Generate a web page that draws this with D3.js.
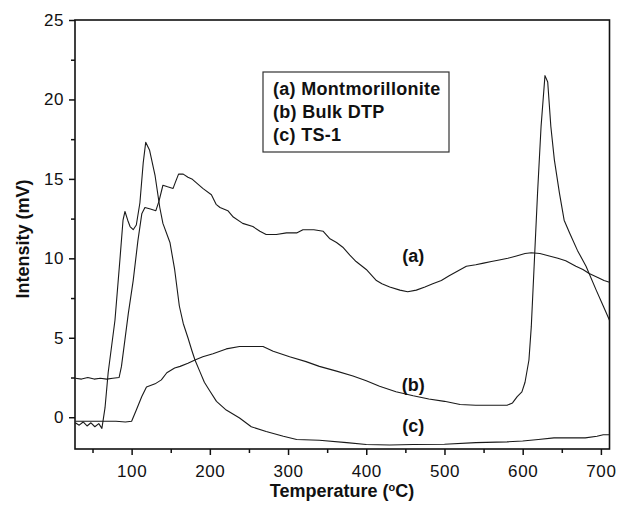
<!DOCTYPE html>
<html>
<head>
<meta charset="utf-8">
<script src="https://cdn.jsdelivr.net/npm/d3@7"></script>
<style>
  body { margin: 0; background: #fff; }
  text { font-family: "Liberation Sans", Arial, Helvetica, sans-serif; fill: #111; }
</style>
</head>
<body>
<div id="chart"></div>
<script>
// Chart size
var width = 620;
var height = 507;

// Data: [temperature (°C), intensity (mV)]
var montmorillonite = [
  [28,2.45],[36,2.4],[44,2.5],[52,2.4],[60,2.45],[68,2.4],[76,2.45],[84,2.5],[87,3.2],
  [91.5,4.9],[95.7,6.5],[102,8.6],[108,11.1],[113,12.8],[117,13.2],[124,13.1],[131,13.0],
  [135,13.6],[140,14.6],[146,14.5],[153,14.4],[156,14.8],[160,15.3],[166,15.3],[172,15.1],
  [177,15.0],[184,14.7],[191,14.4],[202,14.0],[208,13.4],[213,13.2],[223,13.0],[230,12.6],
  [242,12.2],[255,12.0],[264,11.7],[272,11.5],[285,11.5],[298,11.6],[311,11.6],[319,11.8],
  [333,11.8],[345,11.7],[353,11.25],[362,11.0],[370,10.7],[379,10.2],[387,9.8],[400,9.3],
  [413,8.6],[420,8.4],[430,8.2],[443,8.0],[453,7.9],[464,8.0],[475,8.2],[485,8.4],[496,8.6],
  [506,8.9],[517,9.2],[528,9.5],[540,9.6],[550,9.7],[560,9.8],[570,9.9],[581,10.0],
  [592,10.15],[603,10.3],[611,10.35],[622,10.3],[634,10.15],[645,10.0],[655,9.85],[668,9.5],
  [677,9.3],[685,9.05],[696,8.8],[704,8.6],[711,8.5]
];

var bulkDTP = [
  [28,-0.25],[40,-0.25],[60,-0.25],[80,-0.25],[92,-0.3],[100,-0.25],[106,0.45],[113,1.3],
  [119,1.9],[130,2.1],[138,2.35],[145,2.8],[155,3.1],[162,3.2],[172,3.4],[181,3.6],[191,3.8],
  [204,4.0],[221,4.3],[238,4.45],[255,4.45],[268,4.45],[281,4.15],[302,3.8],[323,3.5],
  [340,3.2],[362,2.9],[383,2.6],[400,2.3],[417,1.95],[438,1.6],[460,1.35],[480,1.15],
  [500,1.0],[520,0.8],[540,0.75],[560,0.75],[580,0.75],[587,0.9],[593,1.3],[599,1.6],
  [603,2.2],[608,3.6],[611,5.7],[615,9.9],[619,14.1],[623.5,18.3],[628.5,21.5],[632,21.1],
  [636,18.3],[640.5,16.2],[647,14.1],[653,12.4],[660,11.6],[670,10.5],[681,9.5],[694,8.0],
  [703,7.0],[711,6.1]
];

var ts1 = [
  [28,-0.35],[33,-0.5],[38,-0.3],[43,-0.55],[48,-0.35],[53,-0.6],[58,-0.4],[62,-0.7],
  [66,0.6],[70,2.8],[78.7,6.1],[85,9.9],[89,12.4],[91.5,12.95],[95,12.4],[98,12.0],
  [102,11.8],[106,12.1],[110.6,13.5],[114.8,16.0],[118,17.3],[123,16.8],[130,15.2],
  [136,13.2],[140,12.2],[149,11.0],[155,9.3],[161,7.0],[166,5.9],[172,5.0],[177,4.2],
  [181,3.6],[187,2.9],[193,2.2],[200,1.65],[208.5,1.0],[221,0.45],[238,-0.05],[253,-0.6],
  [272,-0.9],[294,-1.2],[311,-1.4],[340,-1.45],[375,-1.6],[400,-1.72],[430,-1.75],
  [460,-1.72],[500,-1.7],[540,-1.6],[580,-1.55],[600,-1.5],[620,-1.4],[640,-1.3],
  [680,-1.3],[695,-1.2],[703,-1.1],[711,-1.1]
];

// Tick values
var xMajor = [100, 200, 300, 400, 500, 600, 700];
var xMinor = [50, 150, 250, 350, 450, 550, 650];
var yMajor = [0, 5, 10, 15, 20, 25];
var yMinor = [2.5, 7.5, 12.5, 17.5, 22.5];

// Legend and curve labels
var legendLines = ["(a) Montmorillonite", "(b) Bulk DTP", "(c) TS-1"];
var curveLabels = [
  {text: "(a)", t: 460, i: 9.8},
  {text: "(b)", t: 460, i: 1.65},
  {text: "(c)", t: 460, i: -0.95}
];

var svg = d3.select("#chart")
  .append("svg")
  .attr("width", width)
  .attr("height", height);

var x = d3.scaleLinear().domain([27.6, 711]).range([75, 609.5]);
var y = d3.scaleLinear().domain([-2, 25]).range([449, 20]);

// Axes (major + minor ticks, outward)
svg.append("g").attr("transform", "translate(0,449)")
  .call(d3.axisBottom(x).tickValues(xMajor).tickSize(6).tickPadding(10));
svg.append("g").attr("transform", "translate(0,449)")
  .call(d3.axisBottom(x).tickValues(xMinor).tickSize(4).tickFormat(""));
svg.append("g").attr("transform", "translate(75,0)")
  .call(d3.axisLeft(y).tickValues(yMajor).tickSize(6).tickPadding(5));
svg.append("g").attr("transform", "translate(75,0)")
  .call(d3.axisLeft(y).tickValues(yMinor).tickSize(4).tickFormat(""));

svg.selectAll(".domain").remove();
svg.selectAll(".tick line").attr("stroke", "#111").attr("stroke-width", 1.5);
svg.selectAll(".tick text")
  .style("font-size", "17px")
  .style("letter-spacing", "0.6px")
  .style("font-family", "'Liberation Sans', Arial, sans-serif")
  .attr("fill", "#111");

// Frame
svg.append("rect")
  .attr("x", x.range()[0])
  .attr("y", y.range()[1])
  .attr("width", x.range()[1] - x.range()[0])
  .attr("height", y.range()[0] - y.range()[1])
  .attr("fill", "none")
  .attr("stroke", "#111")
  .attr("stroke-width", 1.6);

// Curves
var line = d3.line()
  .x(function(d) { return x(d[0]); })
  .y(function(d) { return y(d[1]); });

svg.selectAll("path.curve")
  .data([montmorillonite, bulkDTP, ts1])
  .enter()
  .append("path")
  .attr("class", "curve")
  .attr("d", line)
  .attr("fill", "none")
  .attr("stroke", "#1a1a1a")
  .attr("stroke-width", 1.1)
  .attr("stroke-linejoin", "round");

// Curve labels
svg.selectAll("text.clabel")
  .data(curveLabels)
  .enter()
  .append("text")
  .attr("class", "clabel")
  .attr("x", function(d) { return x(d.t); })
  .attr("y", function(d) { return y(d.i); })
  .attr("text-anchor", "middle")
  .style("font-size", "18px")
  .style("font-weight", "bold")
  .text(function(d) { return d.text; });

// Legend box
svg.append("rect")
  .attr("x", 263)
  .attr("y", 72)
  .attr("width", 186)
  .attr("height", 80)
  .attr("fill", "#fff")
  .attr("stroke", "#333")
  .attr("stroke-width", 1.2);

svg.selectAll("text.legend")
  .data(legendLines)
  .enter()
  .append("text")
  .attr("class", "legend")
  .attr("x", 273)
  .attr("y", function(d, i) { return 95 + i * 23; })
  .style("font-size", "18px")
  .style("letter-spacing", "0.3px")
  .style("font-weight", "bold")
  .text(function(d) { return d; });

// Axis titles
svg.append("text")
  .attr("x", 342)
  .attr("y", 497)
  .attr("text-anchor", "middle")
  .style("font-size", "18px")
  .style("font-weight", "bold")
  .text("Temperature (")
  .append("tspan").attr("baseline-shift", "super").style("font-size", "11px").text("o")
  .select(function() { return this.parentNode; })
  .append("tspan").text("C)");

svg.append("text")
  .attr("transform", "translate(29,239) rotate(-90)")
  .attr("text-anchor", "middle")
  .style("font-size", "18px")
  .style("font-weight", "bold")
  .text("Intensity (mV)");
</script>
</body>
</html>
